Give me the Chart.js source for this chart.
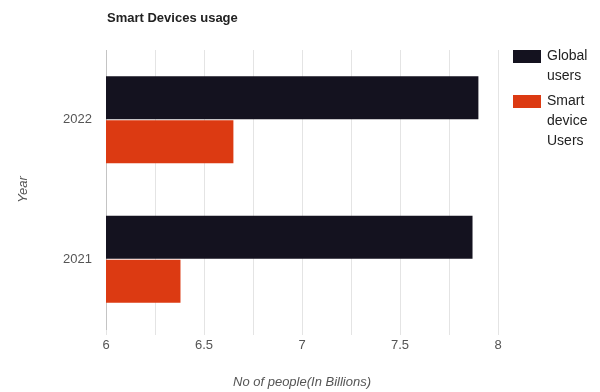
<!DOCTYPE html>
<html>
<head>
<meta charset="utf-8">
<script src="https://cdn.jsdelivr.net/npm/chart.js@4/dist/chart.umd.min.js"></script>
<style>
  html, body { margin: 0; padding: 0; background: #fff; }
  #wrap { width: 600px; height: 392px; }
</style>
</head>
<body>
<div id="wrap"><canvas id="c" width="600" height="392"></canvas></div>
<script>
const chartTitle = 'Smart Devices usage';
const years = ['2022', '2021'];
const seriesNames = ['Global users', 'Smart device Users'];
const globalUsers = [7.90, 7.87];
const smartDeviceUsers = [6.65, 6.38];
const xTitle = 'No of people(In Billions)';
const yTitle = 'Year';

const FONT = "'Liberation Sans', Arial, sans-serif";

const titleLegendPlugin = {
  id: 'titleLegend',
  afterDraw(chart) {
    const ctx = chart.ctx;
    const area = chart.chartArea;
    ctx.save();
    ctx.fillStyle = '#222';
    ctx.font = 'bold 13px ' + FONT;
    ctx.textAlign = 'left';
    ctx.textBaseline = 'middle';
    ctx.fillText(chartTitle, area.left + 1, 18);

    // legend
    const lx = 513, tx = 547;
    let y = 50;
    ctx.font = '14px ' + FONT;
    chart.data.datasets.forEach(ds => {
      ctx.fillStyle = ds.backgroundColor;
      ctx.fillRect(lx, y, 28, 13);
      const words = ds.label.split(' ');
      ctx.fillStyle = '#222';
      let ly = y + 6;
      words.forEach(w => {
        ctx.fillText(w, tx, ly);
        ly += 20;
      });
      y += words.length * 20 + 5;
    });
    ctx.restore();
  }
};

new Chart(document.getElementById('c'), {
  type: 'bar',
  data: {
    labels: years,
    datasets: [
      { label: seriesNames[0], data: globalUsers, backgroundColor: '#14121f',
        categoryPercentage: 0.63, barPercentage: 0.98 },
      { label: seriesNames[1], data: smartDeviceUsers, backgroundColor: '#dc3a12',
        categoryPercentage: 0.63, barPercentage: 0.98 }
    ]
  },
  options: {
    indexAxis: 'y',
    responsive: false,
    animation: false,
    devicePixelRatio: 1,
    layout: { padding: { top: 50, right: 102, bottom: 2, left: 16 } },
    plugins: {
      legend: { display: false },
      title: { display: false },
      tooltip: { enabled: false }
    },
    scales: {
      x: {
        min: 6, max: 8,
        grid: { color: '#e4e4e4', tickLength: 6, drawTicks: true },
        border: { display: false },
        ticks: {
          stepSize: 0.25, autoSkip: false, maxRotation: 0,
          color: '#555', font: { family: FONT, size: 13 }, padding: 3,
          callback: v => (Math.round(v * 100) % 50 === 0 ? String(v) : '')
        },
        title: { display: true, text: xTitle, color: '#555',
          font: { family: FONT, size: 13, style: 'italic' }, padding: { top: 16, bottom: 0 } },
        afterFit(s) { s.height = 61; }
      },
      y: {
        grid: { display: false },
        border: { display: true, color: '#c4c4c4' },
        ticks: { color: '#555', font: { family: FONT, size: 13 }, padding: 6 },
        title: { display: true, text: yTitle, color: '#555',
          font: { family: FONT, size: 13, style: 'italic' }, padding: { top: 0, bottom: 0 } },
        afterFit(s) { s.width = 90; }
      }
    }
  },
  plugins: [titleLegendPlugin]
});
</script>
</body>
</html>
